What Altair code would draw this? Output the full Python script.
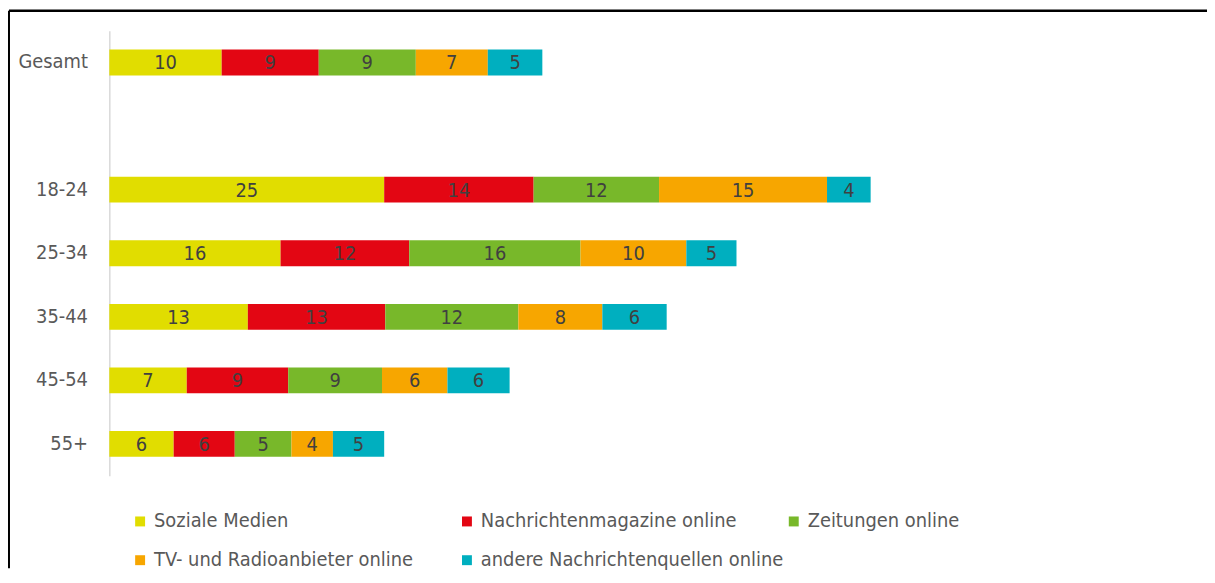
import altair as alt
import pandas as pd

FONT = "DejaVu Sans Condensed, DejaVu Sans, sans-serif"

groups = ["Gesamt", "18-24", "25-34", "35-44", "45-54", "55+"]
y_order = ["Gesamt", " ", "18-24", "25-34", "35-44", "45-54", "55+"]
series = [
    "Soziale Medien",
    "Nachrichtenmagazine online",
    "Zeitungen online",
    "TV- und Radioanbieter online",
    "andere Nachrichtenquellen online",
]
colors = ["#E1DD00", "#E30613", "#78B82A", "#F7A600", "#00AFBF"]

soziale = [10.3, 25.2, 15.7, 12.7, 7.1, 5.9]
magazine = [8.9, 13.7, 11.8, 12.6, 9.3, 5.6]
zeitungen = [8.9, 11.5, 15.7, 12.2, 8.6, 5.2]
tv_radio = [6.6, 15.4, 9.7, 7.7, 6.0, 3.8]
andere = [5.0, 4.0, 4.6, 5.9, 5.7, 4.7]

values_by_series = [soziale, magazine, zeitungen, tv_radio, andere]
rows = []
for si, (s, vals) in enumerate(zip(series, values_by_series)):
    for g, v in zip(groups, vals):
        rows.append({"group": g, "series": s, "idx": si, "value": v})
df = pd.DataFrame(rows)

W, H = 1098, 448
PAD = {"left": 102, "top": 21, "right": 7, "bottom": 93}

base = alt.Chart(df)

bars = base.mark_bar(strokeWidth=0).encode(
    y=alt.Y(
        "group:N",
        sort=y_order,
        scale=alt.Scale(domain=y_order, paddingInner=0.594, paddingOuter=0.297),
        axis=alt.Axis(
            title=None,
            ticks=False,
            labelPadding=22,
            labelFont=FONT,
            labelFontSize=20,
            labelColor="#595959",
            domainColor="#D9D9D9",
            domainWidth=1.5,
            grid=False,
        ),
    ),
    x=alt.X("value:Q", stack="zero", scale=alt.Scale(domain=[0, 100], nice=False), axis=None),
    color=alt.Color(
        "series:N",
        scale=alt.Scale(domain=series, range=colors),
        title=None,
        legend=alt.Legend(
            orient="none",
            legendX=21,
            legendY=484,
            direction="horizontal",
            columns=3,
            gridAlign="all",
            symbolType="square",
            symbolSize=100,
            symbolStrokeWidth=0,
            labelFont=FONT,
            labelFontSize=20,
            labelColor="#595959",
            labelOffset=4,
            labelLimit=500,
            rowPadding=19,
            columnPadding=0,
            padding=0,
        ),
    ),
    order=alt.Order("idx:Q"),
)

labels = (
    base.transform_window(
        cum="sum(value)",
        groupby=["group"],
        sort=[alt.SortField("idx")],
        frame=[None, 0],
    )
    .transform_calculate(mid="datum.cum - datum.value / 2")
    .mark_text(font=FONT, fontSize=20, color="#404040", baseline="middle", dy=1)
    .encode(
        x=alt.X("mid:Q"),
        y=alt.Y("group:N", sort=y_order),
        text=alt.Text("value:Q", format=".0f"),
    )
)

frame_df = pd.DataFrame({"f": [0]})
top_line = alt.Chart(frame_df).mark_rule(color="black", strokeWidth=2.5).encode(
    x=alt.value(-101), x2=alt.value(W + PAD["right"]), y=alt.value(-20)
)
left_line = alt.Chart(frame_df).mark_rule(color="black", strokeWidth=2).encode(
    x=alt.value(-101), y=alt.value(-20), y2=alt.value(H + PAD["bottom"])
)

chart = (
    alt.layer(bars, labels, top_line, left_line)
    .properties(
        width=W,
        height=H,
        padding=PAD,
        autosize=alt.AutoSizeParams(type="none"),
    )
    .configure_view(stroke="transparent")
)

chart.save("out.html", embed_options={"renderer": "svg", "actions": False})
